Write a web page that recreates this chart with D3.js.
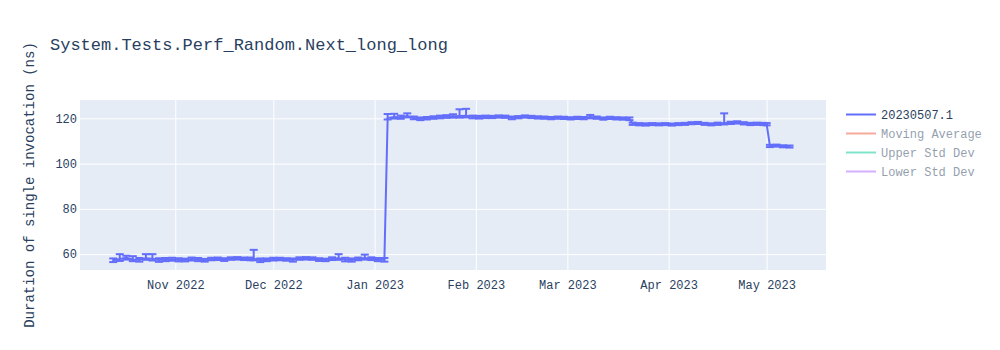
<!DOCTYPE html>
<html>
<head>
<meta charset="utf-8">
<script src="https://cdn.jsdelivr.net/npm/d3@7"></script>
<style>
  body { margin: 0; background: #fff; }
  svg text { font-family: "Courier New", "Liberation Mono", monospace; fill: #2a3f5f; }
</style>
</head>
<body>
<svg id="chart" width="1000" height="350"></svg>
<script>
// benchmark runs (date of run)
var runDates = [
  '2022-10-13','2022-10-15','2022-10-17','2022-10-19','2022-10-21','2022-10-23','2022-10-25','2022-10-27','2022-10-29','2022-10-31',
  '2022-11-02','2022-11-04','2022-11-06','2022-11-08','2022-11-10','2022-11-12','2022-11-14','2022-11-16','2022-11-18','2022-11-20',
  '2022-11-22','2022-11-24','2022-11-25','2022-11-27','2022-11-29','2022-12-01','2022-12-03','2022-12-05','2022-12-07','2022-12-09',
  '2022-12-11','2022-12-13','2022-12-15','2022-12-17','2022-12-19','2022-12-21','2022-12-23','2022-12-25','2022-12-27','2022-12-29',
  '2022-12-31','2023-01-02','2023-01-04','2023-01-05','2023-01-07','2023-01-09','2023-01-11','2023-01-13','2023-01-15','2023-01-17',
  '2023-01-19','2023-01-21','2023-01-23','2023-01-25','2023-01-27','2023-01-29','2023-01-31','2023-02-02','2023-02-04','2023-02-06',
  '2023-02-08','2023-02-10','2023-02-12','2023-02-14','2023-02-16','2023-02-18','2023-02-20','2023-02-22','2023-02-24','2023-02-26',
  '2023-02-28','2023-03-02','2023-03-04','2023-03-06','2023-03-08','2023-03-10','2023-03-12','2023-03-14','2023-03-16','2023-03-18',
  '2023-03-20','2023-03-21','2023-03-23','2023-03-25','2023-03-27','2023-03-29','2023-03-31','2023-04-02','2023-04-04','2023-04-06',
  '2023-04-08','2023-04-10','2023-04-12','2023-04-14','2023-04-16','2023-04-18','2023-04-20','2023-04-22','2023-04-24','2023-04-26',
  '2023-04-28','2023-04-30','2023-05-01','2023-05-02','2023-05-04','2023-05-06','2023-05-08'
]

// duration in ns
var durations = [
  57.3, 57.9, 58.4, 57.6, 57.5, 58.2, 58.0, 57.4, 57.6, 57.8,
  57.5, 57.4, 57.9, 57.6, 57.3, 57.9, 58.0, 57.6, 58.1, 58.2,
  58.0, 57.9, 58.0, 57.3, 57.5, 57.8, 57.9, 57.7, 57.4, 58.1,
  58.2, 58.1, 57.6, 57.5, 58.0, 58.2, 57.6, 57.4, 57.9, 58.3,
  58.0, 57.6, 57.5, 120.2, 120.6, 120.4, 121.0, 120.2, 119.8, 120.1,
  120.4, 120.6, 120.8, 120.9, 121.0, 121.1, 120.6, 120.5, 120.7, 120.6,
  120.8, 120.7, 120.2, 120.5, 120.8, 120.6, 120.4, 120.3, 120.1, 120.3,
  120.2, 120.0, 120.2, 120.1, 120.6, 120.3, 119.9, 120.2, 120.0, 119.9,
  119.8, 117.6, 117.4, 117.3, 117.5, 117.4, 117.5, 117.3, 117.5, 117.6,
  117.9, 118.0, 117.6, 117.4, 117.6, 117.9, 118.0, 118.2, 117.8, 117.5,
  117.6, 117.5, 117.4, 107.8, 108.0, 107.7, 107.6
]

// distance from the value to the upper end of its error bar
var errorsUp = [
  0.8, 2.1, 0.9, 1.5, 0.8, 1.8, 2.0, 0.8, 0.7, 0.6,
  0.7, 0.6, 0.6, 0.7, 0.6, 0.5, 0.5, 0.6, 0.5, 0.5,
  0.5, 0.6, 3.9, 0.8, 0.6, 0.6, 0.5, 0.5, 0.7, 0.5,
  0.5, 0.5, 0.6, 0.5, 0.6, 1.8, 0.8, 0.7, 0.6, 1.5,
  0.6, 0.7, 0.8, 1.7, 1.4, 0.8, 1.2, 0.6, 0.6, 0.5,
  0.5, 0.6, 0.6, 0.9, 3.0, 3.1, 0.6, 0.6, 0.5, 0.5,
  0.5, 0.5, 0.6, 0.5, 0.5, 0.5, 0.5, 0.5, 0.5, 0.5,
  0.5, 0.5, 0.5, 0.5, 0.9, 0.5, 0.5, 0.5, 0.5, 0.5,
  0.6, 0.5, 0.5, 0.5, 0.4, 0.4, 0.4, 0.4, 0.4, 0.4,
  0.4, 0.4, 0.4, 0.4, 0.5, 4.3, 0.5, 0.5, 0.5, 0.5,
  0.5, 0.5, 0.5, 0.5, 0.4, 0.4, 0.4
]

// distance from the value down to the lower end of its error bar
var errorsDown = [
  0.8, 0.9, 0.8, 0.7, 0.8, 0.7, 0.8, 0.8, 0.7, 0.7,
  0.7, 0.6, 0.7, 0.7, 0.6, 0.6, 0.6, 0.6, 0.6, 0.6,
  0.6, 0.6, 0.7, 0.8, 0.6, 0.6, 0.6, 0.6, 0.7, 0.6,
  0.6, 0.6, 0.6, 0.6, 0.6, 0.7, 0.8, 0.7, 0.6, 0.7,
  0.6, 0.7, 0.8, 0.7, 0.7, 0.6, 0.6, 0.6, 0.6, 0.6,
  0.6, 0.6, 0.6, 0.6, 0.7, 0.7, 0.6, 0.6, 0.6, 0.5,
  0.5, 0.5, 0.6, 0.5, 0.5, 0.5, 0.5, 0.5, 0.5, 0.5,
  0.5, 0.5, 0.5, 0.5, 0.6, 0.5, 0.5, 0.5, 0.5, 0.5,
  0.6, 0.5, 0.5, 0.5, 0.5, 0.5, 0.5, 0.5, 0.5, 0.5,
  0.5, 0.5, 0.5, 0.5, 0.5, 0.6, 0.5, 0.5, 0.5, 0.5,
  0.5, 0.5, 0.5, 0.5, 0.5, 0.5, 0.5
]

var yTicks = [60, 80, 100, 120]
var xTicks = ['2022-11-01','2022-12-01','2023-01-01','2023-02-01','2023-03-01','2023-04-01','2023-05-01']
var legendNames = ['20230507.1', 'Moving Average', 'Upper Std Dev', 'Lower Std Dev']
var legendColors = ['#636efa', '#EF553B', '#00cc96', '#ab63fa']
var legendHidden = [false, true, true, true]

var chartTitle = 'System.Tests.Perf_Random.Next_long_long'
var yTitle = 'Duration of single invocation (ns)'

var parse = d3.utcParse('%Y-%m-%d')
var fmt = d3.utcFormat('%b %Y')

var margin = {top: 100, right: 174, bottom: 80, left: 80},
    W = 1000, H = 350,
    pw = W - margin.left - margin.right,
    ph = H - margin.top - margin.bottom

var svg = d3.select('#chart')

var xScale = d3.scaleUtc()
               .domain([new Date(Date.UTC(2022, 9, 2, 20)), new Date(Date.UTC(2023, 4, 19, 4))])
               .range([margin.left, margin.left + pw])

var yScale = d3.scaleLinear()
               .domain([53.0, 128.1])
               .range([margin.top + ph, margin.top])

var points = runDates.map((d, i) => ({
  date: parse(d),
  v: durations[i],
  hi: durations[i] + errorsUp[i],
  lo: durations[i] - errorsDown[i]
}))

// plot background
svg.append('rect')
   .attr('x', margin.left).attr('y', margin.top)
   .attr('width', pw).attr('height', ph)
   .attr('fill', '#E5ECF6')

// grid + tick labels
var xAxis = d3.axisBottom(xScale)
              .tickValues(xTicks.map(parse))
              .tickFormat(fmt)
              .tickSize(-ph)
              .tickPadding(6)

svg.append('g')
   .attr('class', 'x-axis')
   .attr('transform', `translate(0,${margin.top + ph})`)
   .call(xAxis)
   .call(g => g.select('.domain').remove())
   .call(g => g.selectAll('line').attr('stroke', '#fff').attr('stroke-width', 1))
   .call(g => g.selectAll('text').attr('font-size', 12).attr('dy', '1.05em'))

var yAxis = d3.axisLeft(yScale)
              .tickValues(yTicks)
              .tickSize(-pw)
              .tickPadding(3)

svg.append('g')
   .attr('class', 'y-axis')
   .attr('transform', `translate(${margin.left},0)`)
   .call(yAxis)
   .call(g => g.select('.domain').remove())
   .call(g => g.selectAll('line').attr('stroke', '#fff').attr('stroke-width', 1))
   .call(g => g.selectAll('text').attr('font-size', 12))

svg.selectAll('.tick text').style('fill', '#2a3f5f')

var plot = svg.append('g')
var blue = legendColors[0]

// error bars
var bars = plot.selectAll('.err')
               .data(points)
               .enter()
               .append('g')
               .attr('class', 'err')
               .attr('stroke', blue)
               .attr('stroke-width', 2)

bars.append('line')
    .attr('x1', d => xScale(d.date)).attr('x2', d => xScale(d.date))
    .attr('y1', d => yScale(d.lo)).attr('y2', d => yScale(d.hi))
bars.append('line')
    .attr('x1', d => xScale(d.date) - 4).attr('x2', d => xScale(d.date) + 4)
    .attr('y1', d => yScale(d.hi)).attr('y2', d => yScale(d.hi))
bars.append('line')
    .attr('x1', d => xScale(d.date) - 4).attr('x2', d => xScale(d.date) + 4)
    .attr('y1', d => yScale(d.lo)).attr('y2', d => yScale(d.lo))

// main line
var line = d3.line()
             .x(d => xScale(d.date))
             .y(d => yScale(d.v))

plot.append('path')
    .datum(points)
    .attr('d', line)
    .attr('fill', 'none')
    .attr('stroke', blue)
    .attr('stroke-width', 2)
    .attr('stroke-linejoin', 'round')

// title
svg.append('text')
   .attr('x', 50).attr('y', 50)
   .attr('font-size', 17)
   .text(chartTitle)

// y axis title
svg.append('text')
   .attr('transform', `translate(34,${margin.top + ph / 2}) rotate(-90)`)
   .attr('text-anchor', 'middle')
   .attr('font-size', 14)
   .text(yTitle)

// legend
var legend = svg.append('g')
                .attr('transform', 'translate(846,114.5)')

var items = legend.selectAll('.item')
                  .data(legendNames)
                  .enter()
                  .append('g')
                  .attr('class', 'item')
                  .attr('transform', (d, i) => `translate(0,${i * 19})`)
                  .attr('opacity', (d, i) => legendHidden[i] ? 0.5 : 1)

items.append('line')
     .attr('x1', 0).attr('x2', 30)
     .attr('y1', 0).attr('y2', 0)
     .attr('stroke', (d, i) => legendColors[i])
     .attr('stroke-width', 2)

items.append('text')
     .attr('x', 35)
     .attr('y', 0)
     .attr('dy', '0.35em')
     .attr('font-size', 12)
     .text(d => d)
</script>
</body>
</html>
